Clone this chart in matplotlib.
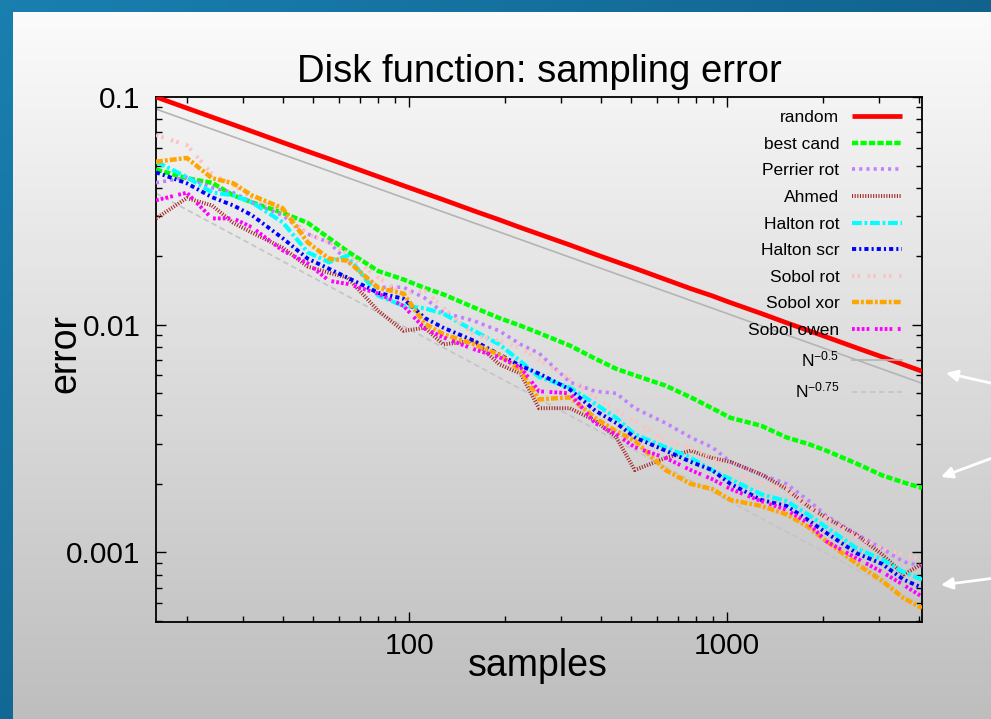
import numpy as np
import matplotlib
matplotlib.use("Agg")
import matplotlib.pyplot as plt
from matplotlib.ticker import FixedLocator, LogLocator, NullFormatter

plt.rcParams['font.family'] = ['Liberation Sans', 'DejaVu Sans']
plt.rcParams['mathtext.fontset'] = 'custom'
plt.rcParams['mathtext.rm'] = 'Liberation Sans'
plt.rcParams['lines.scale_dashes'] = False

# ---------------- data ----------------
samples = [16, 20, 24, 28, 32, 40, 48, 56, 64, 80, 96, 112, 128, 160, 192, 224, 256,
           320, 384, 448, 512, 640, 768, 896, 1024, 1280, 1536, 1792, 2048, 2560,
           3072, 3584, 4096]

random_err = [0.100, 0.0894, 0.0816, 0.0756, 0.0707, 0.0632, 0.0577, 0.0535, 0.0500,
              0.0447, 0.0408, 0.0378, 0.0354, 0.0316, 0.0289, 0.0267, 0.0250, 0.0224,
              0.0204, 0.0189, 0.0177, 0.0158, 0.0144, 0.0134, 0.0125, 0.0112, 0.0102,
              0.00945, 0.00884, 0.00790, 0.00722, 0.00668, 0.00625]
best_cand = [0.048, 0.044, 0.042, 0.037, 0.0345, 0.031, 0.028, 0.024, 0.021, 0.0172,
             0.0158, 0.0145, 0.0136, 0.0119, 0.0107, 0.0099, 0.0092, 0.0081, 0.0071,
             0.0064, 0.0060, 0.0054, 0.0048, 0.0043, 0.0039, 0.0036, 0.0032, 0.0030,
             0.0028, 0.00245, 0.00218, 0.00203, 0.00192]
perrier_rot = [0.042, 0.0444, 0.040, 0.038, 0.0345, 0.0302, 0.025, 0.023, 0.019, 0.0146,
               0.0146, 0.0131, 0.0113, 0.0104, 0.0094, 0.0082, 0.0075, 0.0056, 0.0051,
               0.0050, 0.0043, 0.0037, 0.0032, 0.0029, 0.0025, 0.0022, 0.0020, 0.0017,
               0.00145, 0.0012, 0.00104, 0.00091, 0.00087]
ahmed = [0.0293, 0.036, 0.0334, 0.028, 0.0254, 0.0218, 0.018, 0.0169, 0.0161, 0.0115,
         0.0094, 0.0097, 0.0082, 0.0085, 0.0067, 0.0061, 0.0043, 0.0043, 0.0038, 0.0032,
         0.0023, 0.0026, 0.0028, 0.0026, 0.0025, 0.0022, 0.0019, 0.0016, 0.00142,
         0.00119, 0.00098, 0.00080, 0.00089]
halton_rot = [0.052, 0.0445, 0.0381, 0.037, 0.0345, 0.0282, 0.0208, 0.0188, 0.0201,
              0.0134, 0.0121, 0.0118, 0.0112, 0.0094, 0.0082, 0.0069, 0.0059, 0.0053,
              0.0045, 0.0039, 0.0033, 0.0029, 0.0026, 0.0023, 0.0021, 0.0018, 0.00168,
              0.00147, 0.00129, 0.00104, 0.00093, 0.00082, 0.00076]
halton_scr = [0.0467, 0.0418, 0.0363, 0.0334, 0.0303, 0.024, 0.0195, 0.0176, 0.0161,
              0.0138, 0.0130, 0.0107, 0.0097, 0.0085, 0.0074, 0.0066, 0.0061, 0.0052,
              0.0042, 0.0037, 0.0032, 0.0028, 0.0025, 0.0023, 0.0020, 0.0017, 0.0016,
              0.00139, 0.00122, 0.00099, 0.00089, 0.00076, 0.00070]
sobol_rot = [0.068, 0.0615, 0.046, 0.041, 0.036, 0.0318, 0.025, 0.023, 0.0205, 0.0161,
             0.0137, 0.0141, 0.0119, 0.0090, 0.0085, 0.0079, 0.0070, 0.0058, 0.0048,
             0.0042, 0.0038, 0.0031, 0.0029, 0.0026, 0.0023, 0.0020, 0.0019, 0.0016,
             0.00142, 0.00117, 0.00104, 0.00098, 0.00093]
sobol_xor = [0.052, 0.054, 0.044, 0.0418, 0.037, 0.0325, 0.023, 0.0195, 0.0191, 0.0145,
             0.0137, 0.0101, 0.0091, 0.0082, 0.0074, 0.0063, 0.0047, 0.0048, 0.0039,
             0.0034, 0.0031, 0.0023, 0.0020, 0.0019, 0.0017, 0.0016, 0.00147, 0.0013,
             0.00112, 0.00089, 0.00075, 0.00063, 0.00057]
sobol_owen = [0.0352, 0.038, 0.0293, 0.0293, 0.0268, 0.0212, 0.0186, 0.0156, 0.0151,
              0.0137, 0.0121, 0.0096, 0.0088, 0.0078, 0.0072, 0.0065, 0.0051, 0.0050,
              0.0037, 0.0033, 0.0029, 0.0026, 0.0023, 0.0021, 0.0019, 0.00168, 0.00154,
              0.00135, 0.00112, 0.00094, 0.00082, 0.00072, 0.00064]

ref_n = [16, 4096]
ref_half = [0.0885, 0.00553]
ref_three_quarter = [0.0378, 0.00059]

x_ticks = [100, 1000]
x_tick_labels = ['100', '1000']
y_ticks = [0.1, 0.01, 0.001]
y_tick_labels = ['0.1', '0.01', '0.001']

# ---------------- figure & slide background ----------------
W, H = 991, 719
fig = plt.figure(figsize=(W / 100, H / 100), dpi=100)
bg = fig.add_axes([0, 0, 1, 1], zorder=-10)
bg.set_xlim(0, W)
bg.set_ylim(H, 0)
bg.axis('off')

gx = np.linspace(0, 1, 200)[None, :, None]
gy = np.linspace(0, 1, 200)[:, None, None]
blue_a = np.array([0.10, 0.50, 0.69])
blue_b = np.array([0.04, 0.30, 0.45])
blue = blue_a + (blue_b - blue_a) * (0.55 * gx + 0.45 * gy)
bg.imshow(blue, extent=[0, W, H, 0], aspect='auto', interpolation='bilinear')
top_g, bot_g = 0.985, 0.745
panel = (top_g + (bot_g - top_g) * np.linspace(0, 1, 256))[:, None, None] * np.ones((1, 2, 3))
bg.imshow(panel, extent=[13, W, H, 12], aspect='auto', interpolation='bilinear')

for tail, head in [((995, 384), (946, 373)), ((995, 457), (941, 477)), ((995, 578), (941, 585))]:
    bg.annotate('', xy=head, xytext=tail,
                arrowprops=dict(arrowstyle='-|>', color='white', lw=2.0,
                                mutation_scale=17, shrinkA=0, shrinkB=0))
bg.set_xlim(0, W)
bg.set_ylim(H, 0)

# ---------------- main axes ----------------
ax = fig.add_axes([156 / W, 1 - 622 / H, 766 / W, 525 / H])
ax.patch.set_alpha(0)
ax.set_xscale('log')
ax.set_yscale('log')

series = [
    ('random', random_err, '#ff0000', '-', 3.4),
    ('best cand', best_cand, '#00ff00', (0, (4.5, 1.6)), 3.2),
    ('Perrier rot', perrier_rot, '#c080ff', (0, (2.2, 3.0)), 2.6),
    ('Ahmed', ahmed, '#a52a2a', (0, (0.8, 1.1)), 2.8),
    ('Halton rot', halton_rot, '#00ffff', (0, (7.0, 2.0, 2.0, 2.0)), 3.0),
    ('Halton scr', halton_scr, '#0000ff', (0, (3.0, 2.2, 1.5, 2.2)), 2.8),
    ('Sobol rot', sobol_rot, '#ffc0c0', (0, (1.8, 2.2, 1.8, 5.5)), 2.8),
    ('Sobol xor', sobol_xor, '#ffa500', (0, (5.0, 1.5, 2.0, 1.5)), 3.2),
    ('Sobol owen', sobol_owen, '#ff00ff', (0, (2.0, 1.5, 2.0, 1.5, 2.0, 1.5, 2.0, 4.0)), 2.8),
]

ax.plot(ref_n, ref_half, color='#b4b4b4', lw=1.2, ls='-', zorder=1,
        label=r'$\mathregular{N^{-0.5}}$')
ax.plot(ref_n, ref_three_quarter, color='#c4c4c4', lw=1.2, ls=(0, (4, 2.5)), zorder=1,
        label=r'$\mathregular{N^{-0.75}}$')
for i, (name, vals, col, ls, lw) in enumerate(series):
    ax.plot(samples, vals, color=col, ls=ls, lw=lw, label=name, zorder=3 + i,
            solid_capstyle='butt', dash_capstyle='butt')

ax.set_xlim(16, 4096)
ax.set_ylim(0.000495, 0.1)

ax.xaxis.set_major_locator(FixedLocator(x_ticks))
ax.set_xticklabels(x_tick_labels)
ax.yaxis.set_major_locator(FixedLocator(y_ticks))
ax.set_yticklabels(y_tick_labels)
ax.xaxis.set_minor_locator(LogLocator(base=10, subs=np.arange(2, 10)))
ax.yaxis.set_minor_locator(LogLocator(base=10, subs=np.arange(2, 10)))
ax.xaxis.set_minor_formatter(NullFormatter())
ax.yaxis.set_minor_formatter(NullFormatter())
ax.tick_params(which='both', direction='in', top=True, right=True, width=1.0, color='black')
ax.tick_params(which='major', length=7)
ax.tick_params(which='minor', length=4)
ax.tick_params(axis='y', which='major', labelsize=21.5, pad=11)
ax.tick_params(axis='x', which='major', labelsize=21.5, pad=7)
for s in ax.spines.values():
    s.set_linewidth(1.3)

ax.set_title('Disk function: sampling error', fontsize=27.5, pad=11)
ax.set_xlabel('samples', fontsize=27)
ax.set_ylabel('error', fontsize=27)
ax.xaxis.set_label_coords(0.499, -0.084)
ax.xaxis.label.set_va('center')
ax.yaxis.set_label_coords((65 - 156) / 766, (622 - 354) / 525)
ax.yaxis.label.set_va('center')

handles, labels = ax.get_legend_handles_labels()
order = list(range(2, len(handles))) + [0, 1]
leg = ax.legend([handles[i] for i in order], [labels[i] for i in order],
                loc='upper right', bbox_to_anchor=((902 - 156) / 766, (622 - 110) / 525),
                frameon=False, fontsize=12.5, markerfirst=False, handlelength=2.9,
                handletextpad=0.7, labelspacing=0.66, borderpad=0, borderaxespad=0)
for t in leg.get_texts():
    t.set_ha('right')

fig.savefig('out.png', dpi=100)
